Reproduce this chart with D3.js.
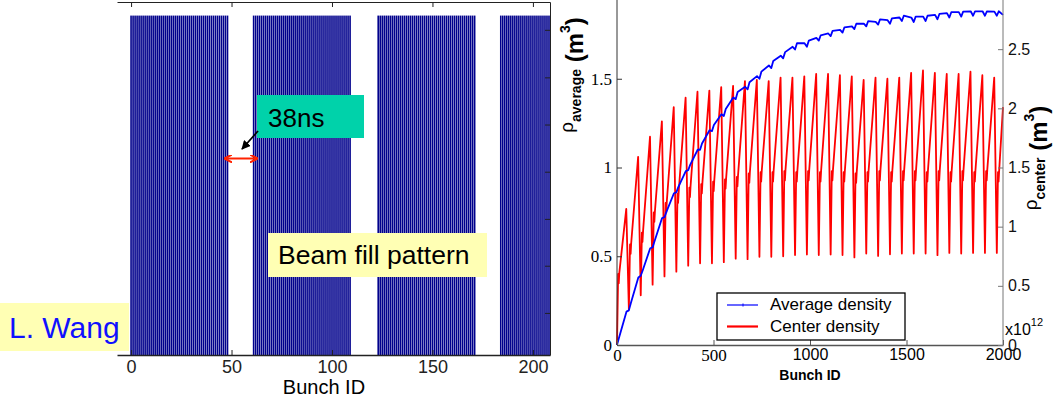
<!DOCTYPE html>
<html>
<head>
<meta charset="utf-8">
<script src="https://cdn.jsdelivr.net/npm/d3@7"></script>
<style>
  body { margin: 0; background: #fff; }
  svg { display: block; font-family: "Liberation Sans", Arial, sans-serif; }
</style>
</head>
<body>
<svg id="chart" width="1053" height="398"></svg>
<script>
// ---- beam fill pattern (left panel) ----
const fillTrainStarts = [0, 61, 123, 184];
const fillTrainLength = 49;
const fillLastBunch = 208;
const fillXTicks = [0, 50, 100, 150, 200];
const fillRightTicks = [0.124, 0.263, 0.401, 0.54, 0.679, 0.818, 0.958];

// ---- electron cloud density vs bunch (right panel) ----
const TRAIN_PERIOD = 61.5;
const densityXTicks = [0, 500, 1000, 1500, 2000];
const averageTicks = [0, 0.5, 1, 1.5];
const centerTicks = [0, 0.5, 1, 1.5, 2, 2.5];

// center density (x1e12 m^-3) per train: trough at start, shoulder, peak at end
const centerTrough = [0, 0.30, 0.42, 0.51, 0.58, 0.62, 0.67, 0.69, 0.69, 0.70, 0.73,
  0.725, 0.745, 0.745, 0.75, 0.76, 0.765, 0.76, 0.765, 0.76, 0.74,
  0.773, 0.753, 0.767, 0.773, 0.773, 0.773, 0.759, 0.778, 0.773, 0.778, 0.778, 0.778];
const centerShoulder = [0.6, 0.85, 0.95, 1.12, 1.2, 1.28, 1.33, 1.36, 1.38, 1.4, 1.42,
  1.45, 1.46, 1.46, 1.47, 1.46, 1.47, 1.46, 1.47, 1.46, 1.45,
  1.46, 1.47, 1.46, 1.47, 1.47, 1.46, 1.47, 1.46, 1.47, 1.46, 1.47, 1.46];
const centerPeak = [1.15, 1.59, 1.76, 1.89, 2.01, 2.09, 2.14, 2.15, 2.18, 2.19, 2.23,
  2.24, 2.23, 2.26, 2.26, 2.27, 2.29, 2.29, 2.28, 2.27, 2.24,
  2.26, 2.25, 2.26, 2.30, 2.32, 2.30, 2.29, 2.29, 2.31, 2.28, 2.26];
const centerEnd = 2.01;

// average density per train: value at train start, 10 bunches in, train end
const averageStart = [0, 0.195, 0.39, 0.55, 0.72, 0.86, 0.985, 1.10, 1.205, 1.29, 1.385,
  1.44, 1.50, 1.56, 1.615, 1.665, 1.68, 1.715, 1.74, 1.76, 1.78,
  1.795, 1.805, 1.81, 1.825, 1.82, 1.825, 1.835, 1.845, 1.85, 1.855, 1.855, 1.855];
const averageEarly = [0.04, 0.235, 0.42, 0.585, 0.75, 0.89, 1.015, 1.135, 1.24, 1.33, 1.425,
  1.48, 1.54, 1.60, 1.65, 1.70, 1.715, 1.745, 1.77, 1.79, 1.81,
  1.825, 1.835, 1.84, 1.855, 1.85, 1.855, 1.865, 1.875, 1.878, 1.88, 1.88, 1.88];
const averageEnd = [0.188, 0.38, 0.545, 0.715, 0.855, 0.98, 1.10, 1.21, 1.30, 1.395, 1.455,
  1.515, 1.575, 1.63, 1.68, 1.70, 1.73, 1.755, 1.775, 1.795, 1.81,
  1.82, 1.83, 1.845, 1.845, 1.85, 1.86, 1.87, 1.875, 1.88, 1.88, 1.878];
const averageFinal = 1.86;

const svg = d3.select('#chart');
const serif = '"Liberation Serif", "Times New Roman", serif';
const sans = '"Liberation Sans", Arial, sans-serif';
const plain = d => String(d);

// ================= left panel =================
const xFill = d3.scaleLinear().domain([-7, 208.5]).range([117, 550]);
const yFill = d3.scaleLinear().domain([0, 1.04]).range([355, 2]);

const bunches = [];
fillTrainStarts.forEach(start => {
  for (let i = 0; i < fillTrainLength; i++) {
    if (start + i <= fillLastBunch) bunches.push(start + i);
  }
});

svg.append('g')
  .selectAll('rect')
  .data(bunches)
  .join('rect')
  .attr('x', d => xFill(d) - 0.8)
  .attr('width', 1.6)
  .attr('y', yFill(1))
  .attr('height', yFill(0) - yFill(1))
  .attr('fill', '#00008c');

const fillBottom = svg.append('g')
  .attr('transform', `translate(0, ${yFill(0)})`)
  .call(d3.axisBottom(xFill).tickValues(fillXTicks).tickSizeInner(-5).tickSizeOuter(0).tickPadding(5).tickFormat(plain))
  .attr('font-size', 18).attr('font-family', sans)
  .attr('color', '#222');
fillBottom.select('.domain').attr('stroke-width', 1.5);

svg.append('g')
  .attr('transform', `translate(0, ${yFill(1.04)})`)
  .call(d3.axisTop(xFill).tickValues(fillXTicks).tickSizeInner(-5).tickSizeOuter(0).tickFormat(''))
  .attr('color', '#222');

svg.append('g')
  .attr('transform', `translate(${xFill(208.5)}, 0)`)
  .call(d3.axisLeft(yFill).tickValues(fillRightTicks).tickSizeInner(5).tickSizeOuter(0).tickFormat(''))
  .attr('color', '#222');

svg.append('text')
  .attr('x', xFill(96)).attr('y', 394)
  .attr('text-anchor', 'middle')
  .attr('font-size', 20)
  .text('Bunch ID');

// annotations
svg.append('defs').html(`
  <marker id="headBlack" viewBox="0 0 10 10" refX="9" refY="5" markerWidth="5" markerHeight="5" orient="auto-start-reverse">
    <path d="M0,0 L10,5 L0,10 z" fill="#000"/>
  </marker>
  <marker id="headRed" viewBox="0 0 10 10" refX="9" refY="5" markerWidth="4" markerHeight="4" orient="auto-start-reverse">
    <path d="M0,0 L10,5 L0,10" fill="none" stroke="#ff2200" stroke-width="2.5"/>
  </marker>`);

svg.append('rect')
  .attr('x', 257).attr('y', 95).attr('width', 107).attr('height', 43)
  .attr('fill', '#00d2aa');
svg.append('text')
  .attr('x', 268).attr('y', 127)
  .attr('font-size', 26)
  .text('38ns');
svg.append('line')
  .attr('x1', 258).attr('y1', 131).attr('x2', 242).attr('y2', 149)
  .attr('stroke', '#000').attr('stroke-width', 1.8)
  .attr('marker-end', 'url(#headBlack)');
svg.append('line')
  .attr('x1', 225).attr('y1', 158.5).attr('x2', 257).attr('y2', 158.5)
  .attr('stroke', '#ff2200').attr('stroke-width', 2)
  .attr('marker-start', 'url(#headRed)')
  .attr('marker-end', 'url(#headRed)');

svg.append('rect')
  .attr('x', 268).attr('y', 233).attr('width', 219).attr('height', 44)
  .attr('fill', '#ffffb4');
svg.append('text')
  .attr('x', 278).attr('y', 264)
  .attr('font-size', 26.5)
  .text('Beam fill pattern');

svg.append('rect')
  .attr('x', 0).attr('y', 303).attr('width', 129).attr('height', 48)
  .attr('fill', '#ffffb4');
svg.append('text')
  .attr('x', 9).attr('y', 338)
  .attr('font-size', 30)
  .attr('fill', '#1010ff')
  .text('L. Wang');

// ================= right panel =================
const xBunch = d3.scaleLinear().domain([0, 2000]).range([617, 1003]);
const yAverage = d3.scaleLinear().domain([0, 2]).range([345, -10]);
const yCenter = d3.scaleLinear().domain([0, 3]).range([345, -10]);

const centerPoints = [];
centerTrough.forEach((trough, k) => {
  const s = k * TRAIN_PERIOD;
  const sh = centerShoulder[k];
  centerPoints.push([s, trough], [s + 6, sh], [s + 9, sh - 0.08], [s + 12, sh + 0.01]);
  if (k < centerPeak.length) centerPoints.push([s + 48, centerPeak[k]]);
});
centerPoints.push([2000, centerEnd]);

const averagePoints = [];
averageStart.forEach((a, k) => {
  const s = k * TRAIN_PERIOD;
  averagePoints.push([s, a], [s + 10, averageEarly[k]]);
  if (k < averageEnd.length) averagePoints.push([s + 49, averageEnd[k]]);
});
averagePoints.push([2000, averageFinal]);

const plot = svg.append('g');

plot.append('path')
  .datum(centerPoints.filter(d => d[0] <= 2000))
  .attr('fill', 'none')
  .attr('stroke', '#ff0000')
  .attr('stroke-width', 1.8)
  .attr('stroke-linejoin', 'round')
  .attr('d', d3.line().x(d => xBunch(d[0])).y(d => yCenter(d[1])));

plot.append('path')
  .datum(averagePoints.filter(d => d[0] <= 2000))
  .attr('fill', 'none')
  .attr('stroke', '#0000ff')
  .attr('stroke-width', 1.8)
  .attr('stroke-linejoin', 'round')
  .attr('d', d3.line().x(d => xBunch(d[0])).y(d => yAverage(d[1])));

const leftAxis = svg.append('g')
  .attr('transform', `translate(${xBunch(0)}, 0)`)
  .call(d3.axisLeft(yAverage).tickValues(averageTicks).tickSizeInner(-5).tickSizeOuter(0).tickPadding(5).tickFormat(plain))
  .attr('font-size', 17).attr('font-family', serif)
  .attr('color', '#333');
leftAxis.selectAll('text').attr('fill', '#000');

const bottomAxis = svg.append('g')
  .attr('transform', `translate(0, ${yAverage(0)})`)
  .call(d3.axisBottom(xBunch).tickValues(densityXTicks).tickSizeInner(-5).tickSizeOuter(0).tickPadding(4).tickFormat(plain))
  .attr('font-size', 16).attr('font-family', sans)
  .attr('color', '#555');
bottomAxis.selectAll('text').attr('fill', '#000')
  .attr('font-family', d => d < 1000 ? serif : sans)
  .attr('font-size', d => d < 1000 ? 17 : 16);
bottomAxis.select('.domain').attr('stroke-width', 1.5);

const rightAxis = svg.append('g')
  .attr('transform', `translate(${xBunch(2000)}, 0)`)
  .call(d3.axisRight(yCenter).tickValues(centerTicks).tickSizeInner(-5).tickSizeOuter(0).tickPadding(5).tickFormat(plain))
  .attr('font-size', 16).attr('font-family', sans)
  .attr('color', '#777');
rightAxis.selectAll('text').attr('fill', '#111');
rightAxis.select('.domain').attr('d', `M0,${yCenter(0)}V0`);
leftAxis.select('.domain').attr('d', `M0,${yAverage(0)}V0`);

// axis titles
const avgTitle = svg.append('text')
  .attr('transform', 'translate(573, 75) rotate(-90)')
  .attr('text-anchor', 'middle');
avgTitle.append('tspan').attr('font-size', 19).text('ρ');
avgTitle.append('tspan').attr('font-size', 14).attr('font-weight', 'bold').attr('dy', 8).text('average');
avgTitle.append('tspan').attr('font-size', 24).attr('font-weight', 'bold').attr('dy', 2).text(' (m');
avgTitle.append('tspan').attr('font-size', 14).attr('font-weight', 'bold').attr('dy', -13).text('3');
avgTitle.append('tspan').attr('font-size', 24).attr('font-weight', 'bold').attr('dy', 13).text(')');

const cenTitle = svg.append('text')
  .attr('transform', 'translate(1037, 158) rotate(-90)')
  .attr('text-anchor', 'middle');
cenTitle.append('tspan').attr('font-size', 19).text('ρ');
cenTitle.append('tspan').attr('font-size', 14).attr('font-weight', 'bold').attr('dy', 8).text('center');
cenTitle.append('tspan').attr('font-size', 24).attr('font-weight', 'bold').attr('dy', 2).text(' (m');
cenTitle.append('tspan').attr('font-size', 14).attr('font-weight', 'bold').attr('dy', -13).text('3');
cenTitle.append('tspan').attr('font-size', 24).attr('font-weight', 'bold').attr('dy', 13).text(')');

const expo = svg.append('text')
  .attr('x', 1005).attr('y', 335)
  .attr('font-size', 16);
expo.append('tspan').text('x10');
expo.append('tspan').attr('font-size', 11).attr('dy', -9).text('12');

svg.append('text')
  .attr('x', xBunch(1000)).attr('y', 380)
  .attr('text-anchor', 'middle')
  .attr('font-size', 14).attr('font-weight', 'bold')
  .text('Bunch ID');

// legend
const legend = svg.append('g').attr('transform', 'translate(717, 293)');
legend.append('rect')
  .attr('width', 188).attr('height', 47)
  .attr('fill', '#fff').attr('stroke', '#000').attr('stroke-width', 1.3);
const legendItems = [
  { label: 'Average density', color: '#0000ff', width: 1.2 },
  { label: 'Center density', color: '#ff0000', width: 2.2 }
];
legendItems.forEach((item, i) => {
  const y = 12 + i * 21.5;
  legend.append('line')
    .attr('x1', 10).attr('x2', 41).attr('y1', y).attr('y2', y)
    .attr('stroke', item.color).attr('stroke-width', item.width);
  if (i === 0) {
    legend.append('line')
      .attr('x1', 26).attr('x2', 26).attr('y1', y - 1.5).attr('y2', y + 1.5)
      .attr('stroke', item.color).attr('stroke-width', 1);
  }
  legend.append('text')
    .attr('x', 53).attr('y', y + 5)
    .attr('font-size', 17)
    .text(item.label);
});
</script>
</body>
</html>
